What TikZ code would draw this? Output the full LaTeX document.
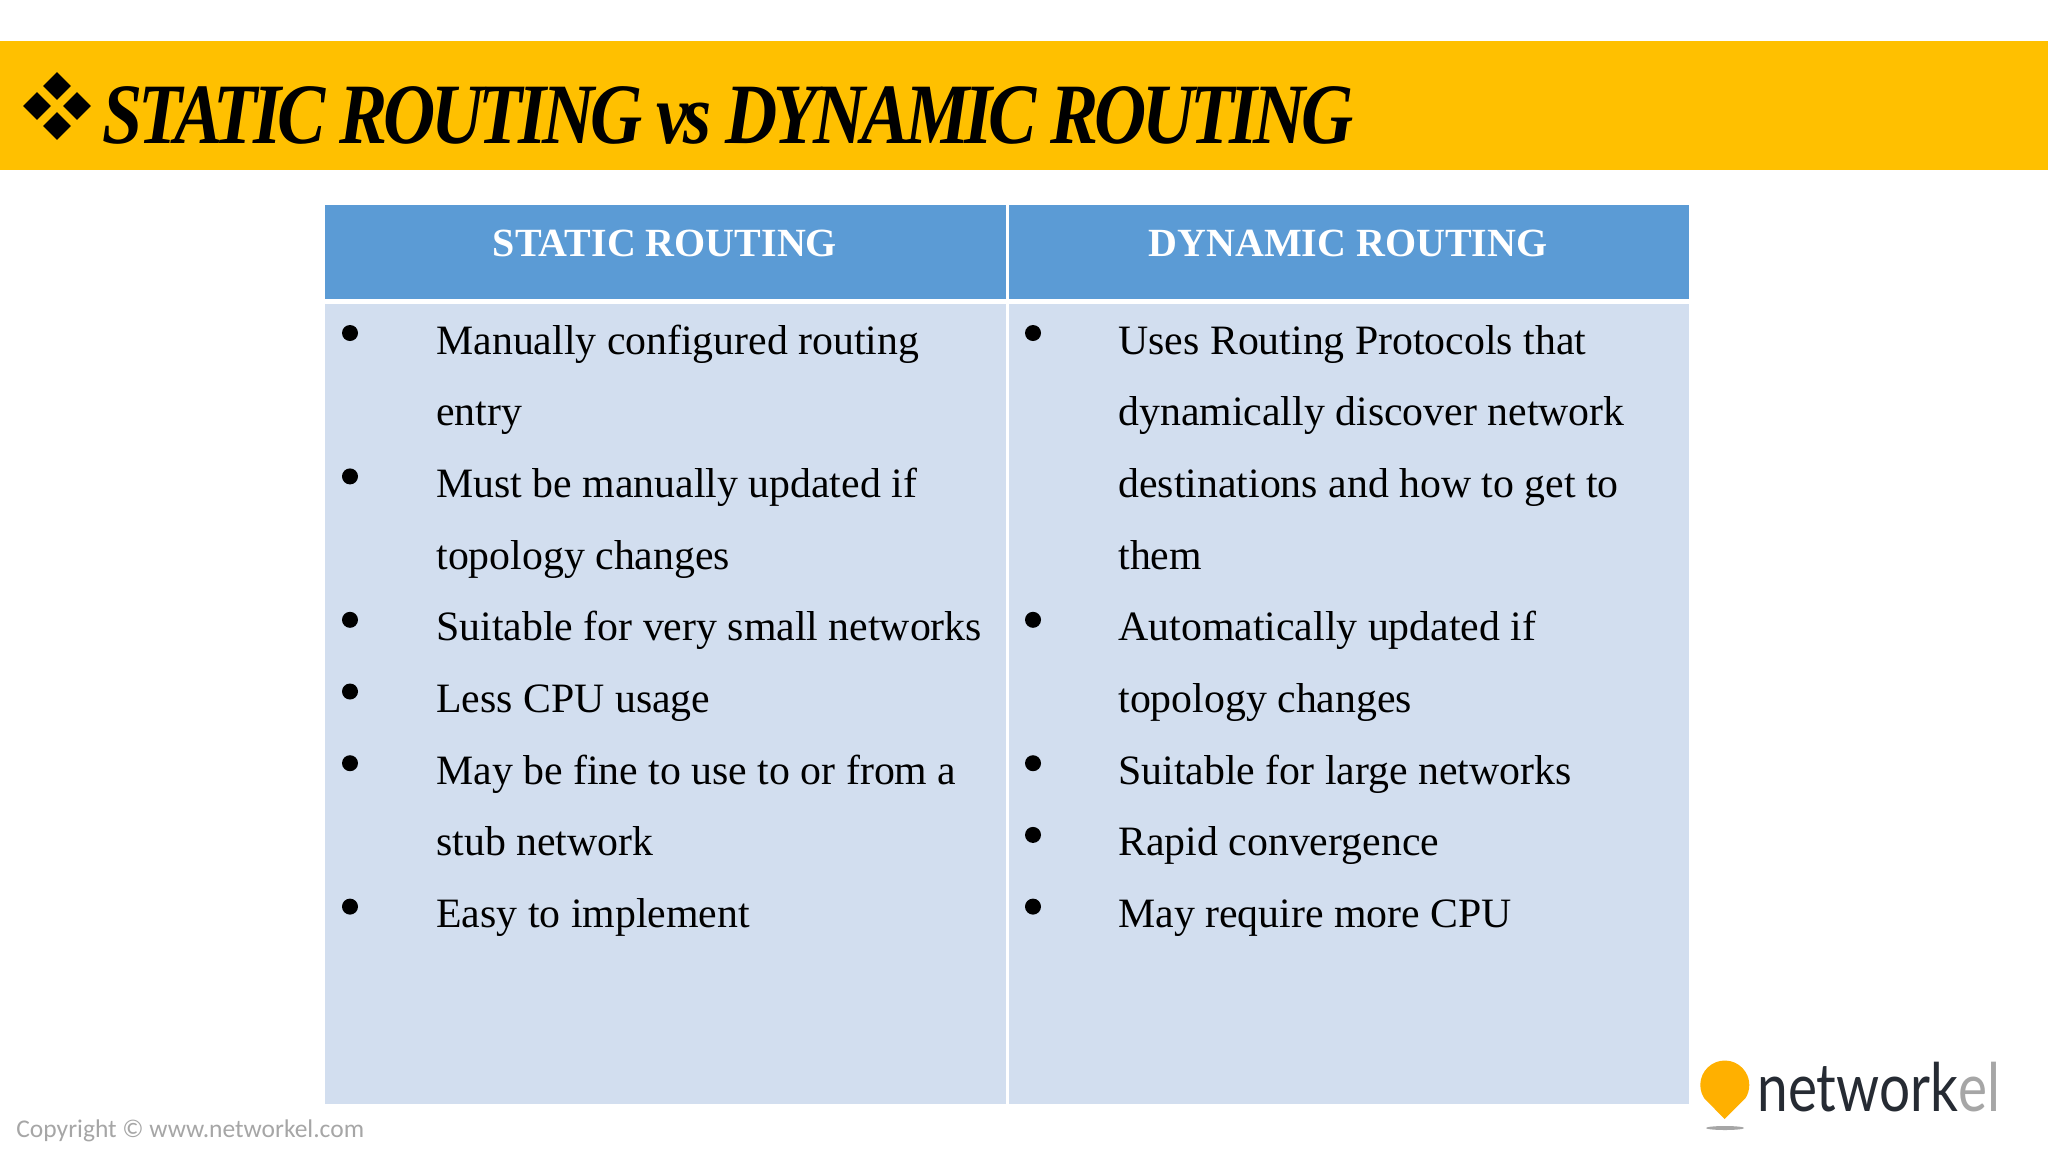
\documentclass[tikz,border=0pt]{standalone}
\usepackage{fontspec}
\usetikzlibrary{shapes.geometric}
\setmainfont{Liberation Serif}
\newfontfamily\titlefont[LetterSpace=-6]{Liberation Serif}
\newfontfamily\copyfont{Carlito}
\newfontfamily\logofont{Lato}
\definecolor{bandcol}{HTML}{FFC000}
\definecolor{headcol}{HTML}{5B9BD5}
\definecolor{bodycol}{HTML}{D2DEEF}
\definecolor{pincol}{HTML}{FFB000}
\definecolor{greycol}{HTML}{A6A6A6}
\definecolor{logocol}{HTML}{262B33}
\tikzset{
  linetext/.style={anchor=base west,inner sep=0pt,font=\fontsize{20.9}{21}\selectfont},
  headtext/.style={anchor=base,inner sep=0pt,text=white,font=\fontsize{20}{21}\selectfont\bfseries},
  bulletdot/.style={circle,fill=black,inner sep=0pt,minimum size=8pt},
  titlemark/.style={diamond,fill=black,inner sep=0pt,minimum size=14pt},
}
\begin{document}
\begin{tikzpicture}[x=.5pt,y=-.5pt]
  \useasboundingbox (0,0) rectangle (2048,1152);
  \fill[white] (0,0) rectangle (2048,1152);
  \fill[bandcol] (0,41) rectangle (2048,170);
  \fill[headcol] (325,205) rectangle (1006,299);
  \fill[headcol] (1009,205) rectangle (1689,299);
  \fill[bodycol] (325,304) rectangle (1006,1104);
  \fill[bodycol] (1009,304) rectangle (1689,1104);

  % title
  \foreach \name/\x/\y in {mt/57/86,mb/57/126,ml/37/106,mr/77/106}
     \node[titlemark] (\name) at (\x,\y) {};
  \node[anchor=base west,inner sep=0pt,font=\titlefont\fontsize{43}{43}\selectfont\bfseries\itshape] (title) at (102,143) {\scalebox{.84}[1]{STATIC ROUTING vs DYNAMIC ROUTING}};

  \node[headtext] (hs) at (665,256) {STATIC ROUTING};
  \node[headtext] (hd) at (1348,256) {DYNAMIC ROUTING};

  % left column
  \foreach \row/\txt in {0/Manually configured routing,1/entry,2/Must be manually updated if,3/topology changes,4/Suitable for very small networks,5/Less CPU usage,6/May be fine to use to or from a,7/stub network,8/Easy to implement}
     \node[linetext] (sl\row) at (436,{354+71.7*\row}) {\txt};
  \foreach \row in {0,2,4,5,6,8}
     \node[bulletdot] (sb\row) at (350,{333+71.7*\row}) {};

  % right column
  \foreach \row/\txt in {0/Uses Routing Protocols that,1/dynamically discover network,2/destinations and how to get to,3/them,4/Automatically updated if,5/topology changes,6/Suitable for large networks,7/Rapid convergence,8/May require more CPU}
     \node[linetext] (dl\row) at (1118,{354+71.7*\row}) {\txt};
  \foreach \row in {0,4,6,7,8}
     \node[bulletdot] (db\row) at (1033,{333+71.7*\row}) {};

  % footer
  \node[anchor=base west,inner sep=0pt,text=greycol,font=\copyfont\fontsize{12.75}{13}\selectfont] (copy) at (16,1137) {Copyright © www.networkel.com};

  % logo
  \fill[pincol] (1724.5,1119) -- (1704,1098) arc[start angle=212,end angle=-32,x radius=24.5,y radius=-24.5] -- cycle;
  \fill[greycol] (1725,1128) ellipse[x radius=19,y radius=2];
  \node[anchor=base west,inner sep=0pt,font=\logofont\fontsize{33.5}{33.5}\selectfont] (logo) at (1757,1111) {\scalebox{.82}[1]{\textcolor{logocol}{network}\textcolor{greycol}{el}}};
\end{tikzpicture}
\end{document}
